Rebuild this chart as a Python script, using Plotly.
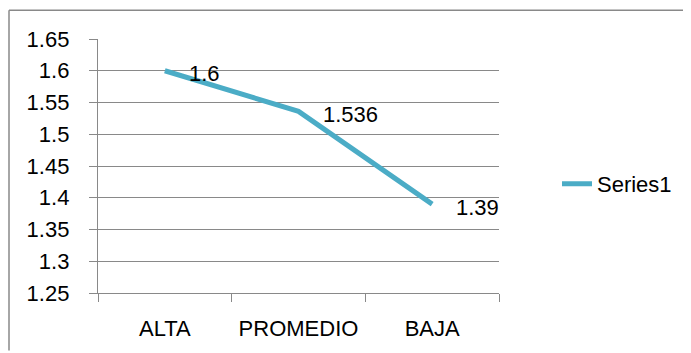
import plotly.graph_objects as go

categories = ["ALTA", "PROMEDIO", "BAJA"]
values = [1.6, 1.536, 1.39]
value_labels = ["1.6", "1.536", "1.39"]
series_name = "Series1"
y_tickvals = [1.25, 1.3, 1.35, 1.4, 1.45, 1.5, 1.55, 1.6, 1.65]
y_ticktext = ["1.25", "1.3", "1.35", "1.4", "1.45", "1.5", "1.55", "1.6", "1.65"]

# page body has an 8px margin; figure coords = page coords - 8
OFF = 8
W, H = 691 - OFF, 353 - OFF
L, T = 98 - OFF, 39 - OFF
PW, PH = 401, 256
R = W - L - PW
B = H - T - PH

def px_x(p):
    return (p - OFF - L) / PW

def px_y(p):
    return (T + PH - (p - OFF)) / PH

FONT = "Liberation Sans"
FS = 22
LINE_COLOR = "#4BACC6"
GRID = "#898989"

fig = go.Figure()
fig.add_trace(go.Scatter(
    x=categories, y=values, mode="lines", name=series_name,
    line=dict(color=LINE_COLOR, width=5),
    showlegend=True,
))

for c, v, t in zip(categories, values, value_labels):
    fig.add_annotation(x=c, y=v, text=t, showarrow=False,
                       xanchor="left", yanchor="middle",
                       xshift=22, yshift=-3,
                       font=dict(family=FONT, size=FS, color="black"))

border = dict(color=GRID, width=1.5)
fig.update_layout(
    width=W, height=H,
    margin=dict(l=L, r=R, t=T, b=B),
    paper_bgcolor="white", plot_bgcolor="white",
    font=dict(family=FONT, size=FS, color="black"),
    showlegend=True,
    legend=dict(x=px_x(557), y=px_y(185), xanchor="left", yanchor="middle",
                font=dict(family=FONT, size=FS, color="black"),
                bgcolor="rgba(0,0,0,0)"),
    xaxis=dict(
        type="category", range=[-0.5, 2.5],
        showgrid=False, showline=True, linecolor=GRID, linewidth=1.3,
        ticks="outside", ticklen=8, tickcolor=GRID, tickwidth=1.3,
        tickson="boundaries", ticklabelstandoff=15,
        tickfont=dict(family=FONT, size=FS, color="black"),
        fixedrange=True,
    ),
    yaxis=dict(
        range=[1.25, 1.65], tickvals=y_tickvals, ticktext=y_ticktext,
        showgrid=True, gridcolor=GRID, gridwidth=1.3,
        showline=True, linecolor=GRID, linewidth=1.3,
        ticks="outside", ticklen=8, tickcolor=GRID, tickwidth=1.3,
        ticklabelstandoff=15,
        tickfont=dict(family=FONT, size=FS, color="black"),
        zeroline=False, fixedrange=True,
    ),
    shapes=[
        dict(type="line", xref="paper", yref="paper",
             x0=px_x(9), x1=px_x(691), y0=px_y(10), y1=px_y(10),
             line=border, layer="below"),
        dict(type="line", xref="paper", yref="paper",
             x0=px_x(9), x1=px_x(9), y0=px_y(10), y1=px_y(353),
             line=border, layer="below"),
    ],
)

fig.write_html("out.html")
